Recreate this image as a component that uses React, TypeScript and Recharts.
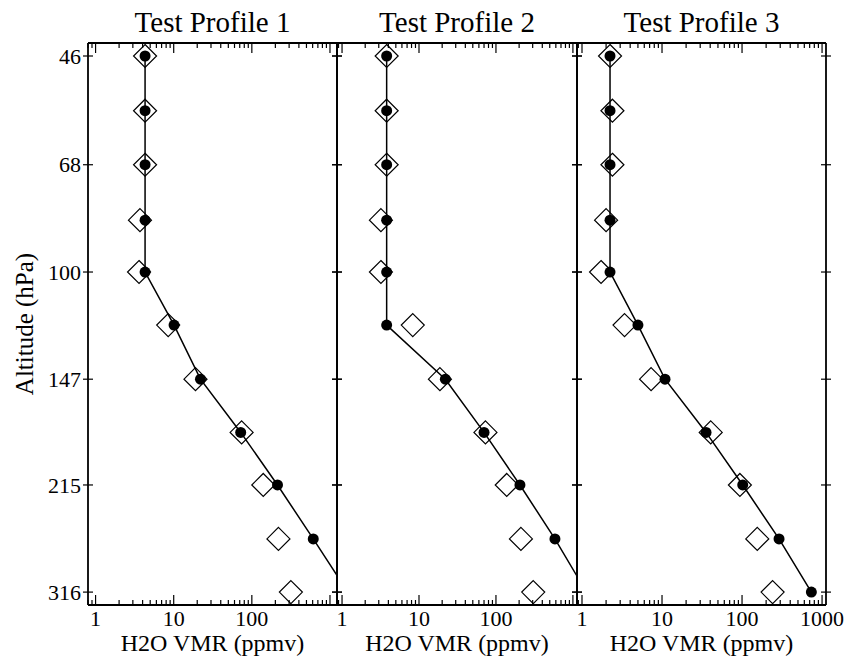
import React from 'react';
import { ScatterChart, Scatter, XAxis, YAxis } from 'recharts';

// pressure levels (hPa), evenly spaced in log-pressure
const pressures = [46, 56, 68, 83, 100, 121, 147, 178, 215, 261, 316];
const pressureTicks = [46, 68, 100, 147, 215, 316];

// filled dots joined by the line
const truth1 = [4.3, 4.3, 4.3, 4.3, 4.3, 10.1, 22, 72, 213, 611, 1700];
const truth2 = [3.8, 3.8, 3.8, 3.8, 3.8, 3.8, 22, 70, 205, 584, 1500];
const truth3 = [2.24, 2.24, 2.24, 2.24, 2.24, 5.0, 10.9, 35.5, 102, 290, 735];

// open diamonds
const retrieved1 = [4.3, 4.3, 4.3, 3.7, 3.6, 8.5, 19, 74, 140, 219, 316];
const retrieved2 = [3.8, 3.8, 3.8, 3.2, 3.2, 8.3, 18.7, 73, 138, 211, 305];
const retrieved3 = [2.24, 2.4, 2.4, 2.0, 1.73, 3.4, 7.3, 40.6, 94, 155, 241];

const titles = ['Test Profile 1', 'Test Profile 2', 'Test Profile 3'];
const xTickLabels = [[1, 10, 100], [1, 10, 100], [1, 10, 100, 1000]];

const FONT = '"Liberation Serif", "Times New Roman", serif';
const W = 845;
const H = 661;
const PLOT_TOP = 43;
const PLOT_BOTTOM = 605;

const panels = [
  { left: 88, right: 337, domain: [0.8, 1230], truth: truth1, retrieved: retrieved1 },
  { left: 337, right: 577, domain: [0.86, 1130], truth: truth2, retrieved: retrieved2 },
  { left: 577, right: 826, domain: [0.866, 1120], truth: truth3, retrieved: retrieved3 },
];

const toPoints = (vals: number[]) => pressures.map((p, i) => ({ p, v: vals[i] }));

const logTicks = (domain: number[]) => {
  const out: number[] = [];
  for (let e = -1; e <= 3; e++) {
    for (let m = 1; m <= 9; m++) {
      const v = +(m * Math.pow(10, e)).toPrecision(3);
      if (v >= domain[0] && v <= domain[1]) out.push(v);
    }
  }
  return out;
};

const isMajor = (v: number) => Math.abs(Math.log10(v) - Math.round(Math.log10(v))) < 1e-6;

const labelStyle = { fontFamily: FONT, fontSize: 22, fill: '#000' };

const BottomTick = (props: any) => {
  const { x, y, payload, labels } = props;
  const v = payload.value;
  return (
    <g>
      <line x1={x} x2={x} y1={y} y2={y - (isMajor(v) ? 10 : 5)} stroke="#000" strokeWidth={1.2} />
      {labels.includes(v) && (
        <text x={x} y={y + 21} textAnchor="middle" style={labelStyle}>
          {v}
        </text>
      )}
    </g>
  );
};

const TopTick = (props: any) => {
  const { x, y, payload } = props;
  return <line x1={x} x2={x} y1={y} y2={y + (isMajor(payload.value) ? 10 : 5)} stroke="#000" strokeWidth={1.2} />;
};

const SideTick = (props: any) => {
  const { x, y, payload, showLabel } = props;
  return (
    <g>
      <line x1={x - 5} x2={x + 5} y1={y} y2={y} stroke="#000" strokeWidth={1.2} />
      {showLabel && (
        <text x={x - 7} y={y} dy="0.35em" textAnchor="end" style={labelStyle}>
          {payload.value}
        </text>
      )}
    </g>
  );
};

const Dot = (props: any) => <circle cx={props.cx} cy={props.cy} r={5.5} fill="#000" />;

const Diamond = (props: any) => {
  const { cx, cy } = props;
  const r = 11.5;
  return <path d={`M${cx},${cy - r}L${cx + r},${cy}L${cx},${cy + r}L${cx - r},${cy}Z`} fill="none" stroke="#000" strokeWidth={1.2} />;
};

const Panel: React.FC<{ idx: number }> = ({ idx }) => {
  const cfg = panels[idx];
  const ticks = logTicks(cfg.domain);
  const axisLine = { stroke: '#000', strokeWidth: 1.8 };
  // axes get a 1px box (a 0 size box is not drawn), margins take the rest
  return (
    <div style={{ position: 'absolute', left: 0, top: 0 }}>
      <ScatterChart
        width={W}
        height={H}
        margin={{ top: PLOT_TOP - 1, bottom: H - PLOT_BOTTOM - 1, left: cfg.left - 1, right: W - cfg.right - 1 }}
      >
        <XAxis
          dataKey="v"
          type="number"
          scale="log"
          domain={cfg.domain}
          allowDataOverflow
          ticks={ticks}
          interval={0}
          height={1}
          tickSize={0}
          tickMargin={0}
          tickLine={false}
          axisLine={axisLine}
          tick={<BottomTick labels={xTickLabels[idx]} />}
        />
        <XAxis
          xAxisId="top"
          orientation="top"
          dataKey="v"
          type="number"
          scale="log"
          domain={cfg.domain}
          allowDataOverflow
          ticks={ticks}
          interval={0}
          height={1}
          tickSize={0}
          tickMargin={0}
          tickLine={false}
          axisLine={axisLine}
          tick={<TopTick />}
        />
        <YAxis
          dataKey="p"
          type="number"
          scale="log"
          reversed
          domain={[43.9, 331]}
          allowDataOverflow
          ticks={pressureTicks}
          interval={0}
          width={1}
          tickSize={0}
          tickMargin={0}
          tickLine={false}
          axisLine={axisLine}
          tick={<SideTick showLabel={idx === 0} />}
        />
        <YAxis
          yAxisId="right"
          orientation="right"
          dataKey="p"
          type="number"
          scale="log"
          reversed
          domain={[43.9, 331]}
          allowDataOverflow
          ticks={pressureTicks}
          interval={0}
          width={1}
          tickSize={0}
          tickMargin={0}
          tickLine={false}
          axisLine={axisLine}
          tick={<SideTick showLabel={false} />}
        />
        <Scatter data={toPoints(cfg.retrieved)} shape={<Diamond />} isAnimationActive={false} />
        <Scatter
          data={toPoints(cfg.truth)}
          fill="#000"
          line={{ stroke: '#000', strokeWidth: 1.5 }}
          shape={<Dot />}
          isAnimationActive={false}
        />
      </ScatterChart>
    </div>
  );
};

export default function App() {
  return (
    <div style={{ position: 'absolute', left: 0, top: 0, width: W, height: H, background: '#fff' }}>
      {panels.map((_, i) => (
        <Panel key={i} idx={i} />
      ))}
      <svg width={W} height={H} style={{ position: 'absolute', left: 0, top: 0, pointerEvents: 'none' }}>
        {panels.map((cfg, i) => {
          const cx = (cfg.left + cfg.right) / 2;
          return (
            <g key={i}>
              <text x={cx} y={32} textAnchor="middle" fontSize={29} fontFamily={FONT} fill="#000">
                {titles[i]}
              </text>
              <text x={cx} y={651} textAnchor="middle" fontSize={24} fontFamily={FONT} fill="#000">
                H2O VMR (ppmv)
              </text>
            </g>
          );
        })}
        <text
          x={24}
          y={324}
          transform="rotate(-90 24 324)"
          textAnchor="middle"
          dy="0.35em"
          fontSize={25}
          fontFamily={FONT}
          fill="#000"
        >
          Altitude (hPa)
        </text>
      </svg>
    </div>
  );
}
